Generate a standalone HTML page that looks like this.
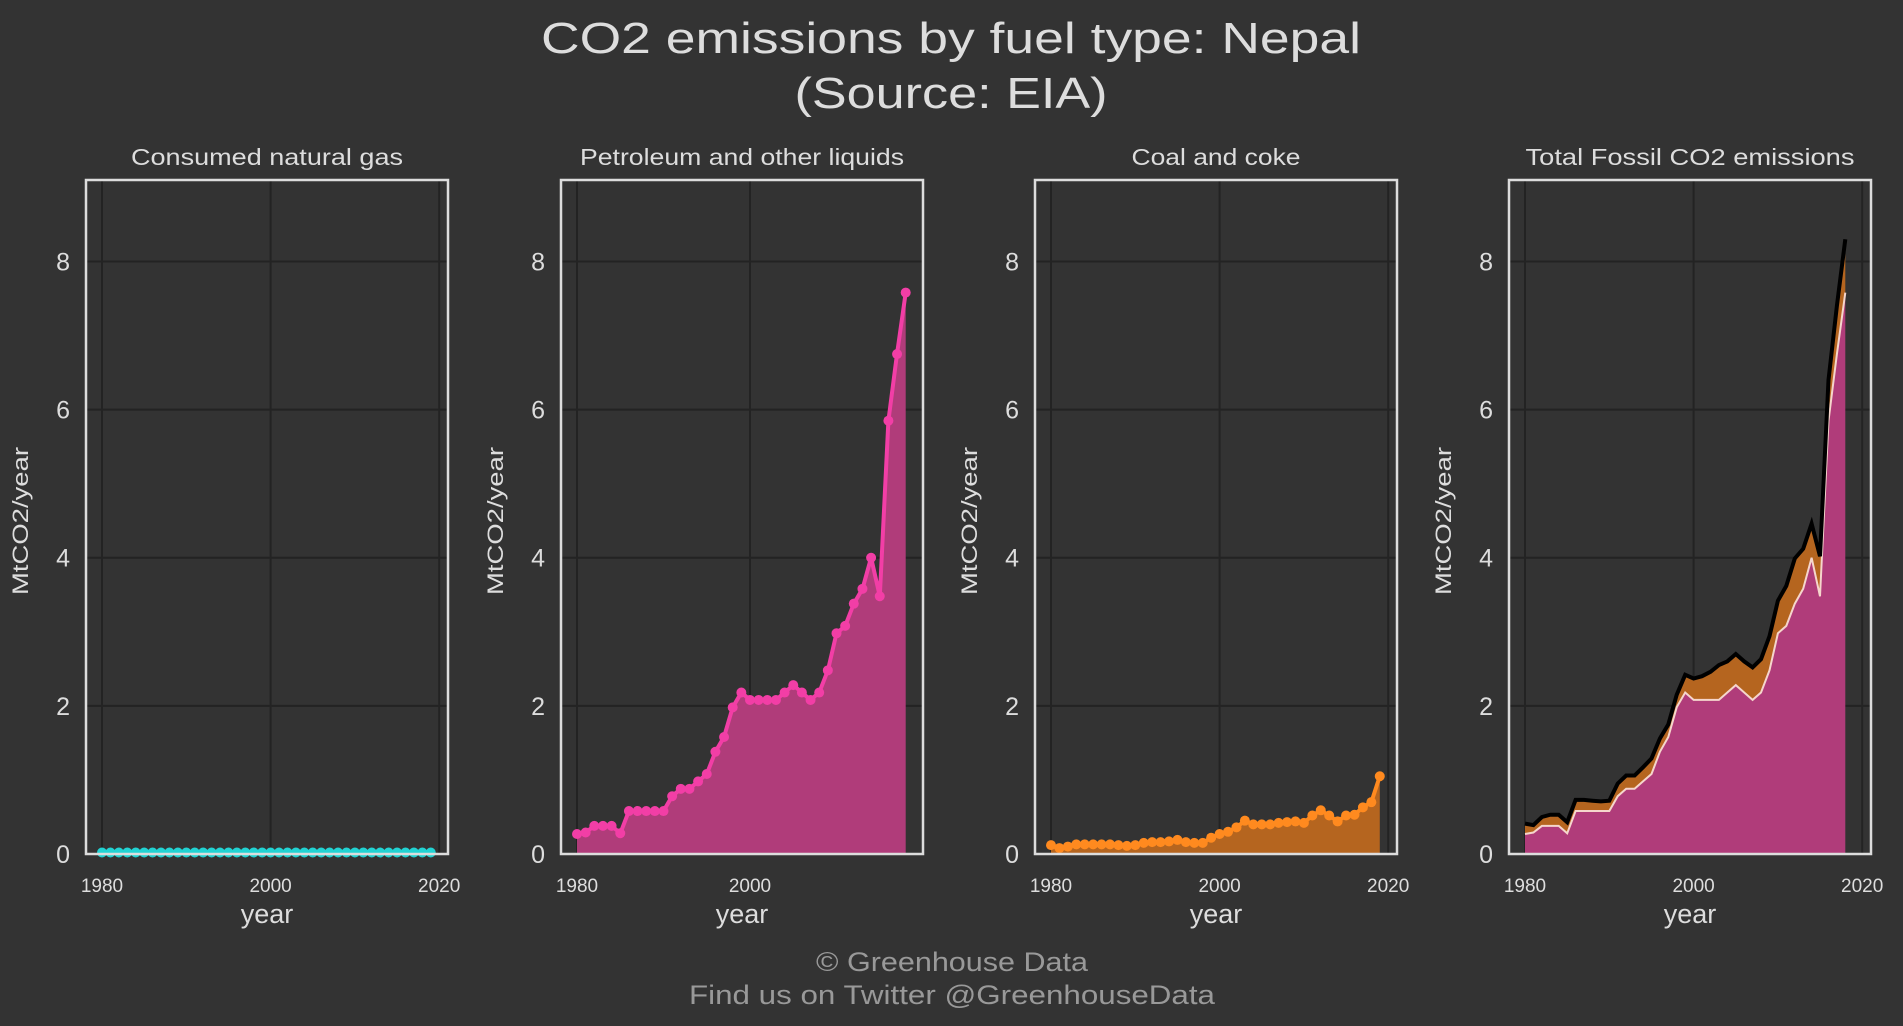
<!DOCTYPE html>
<html><head><meta charset="utf-8"><style>
html,body{margin:0;padding:0;background:#333333;}
svg{display:block;font-family:"Liberation Sans",sans-serif;}
</style></head><body>
<svg id="chart" width="1903" height="1026" viewBox="0 0 1903 1026" xmlns="http://www.w3.org/2000/svg">
<rect width="1903" height="1026" fill="#333333"/>
<text x="951" y="53" text-anchor="middle" font-size="44" fill="#dddddd" textLength="820" lengthAdjust="spacingAndGlyphs">CO2 emissions by fuel type: Nepal</text>
<text x="951" y="108" text-anchor="middle" font-size="44" fill="#dddddd" textLength="313" lengthAdjust="spacingAndGlyphs">(Source: EIA)</text>
<text x="952" y="971" text-anchor="middle" font-size="27" fill="#999999" textLength="272" lengthAdjust="spacingAndGlyphs">© Greenhouse Data</text>
<text x="952" y="1004" text-anchor="middle" font-size="27" fill="#999999" textLength="526" lengthAdjust="spacingAndGlyphs">Find us on Twitter @GreenhouseData</text>
<g id="panels"></g>
</svg>
<script>
const years = [];
for (let y = 1980; y <= 2019; y++) years.push(y);
const gasValues = [0.02,0.02,0.02,0.02,0.02,0.02,0.02,0.02,0.02,0.02,0.02,0.02,0.02,0.02,0.02,0.02,0.02,0.02,0.02,0.02,0.02,0.02,0.02,0.02,0.02,0.02,0.02,0.02,0.02,0.02,0.02,0.02,0.02,0.02,0.02,0.02,0.02,0.02,0.02,0.02];
const petroleumValues = [0.27,0.29,0.38,0.38,0.38,0.28,0.58,0.58,0.58,0.58,0.58,0.78,0.88,0.88,0.98,1.08,1.38,1.58,1.98,2.18,2.08,2.08,2.08,2.08,2.18,2.28,2.18,2.08,2.18,2.48,2.98,3.08,3.38,3.58,4.0,3.48,5.85,6.75,7.58];
const coalValues = [0.12,0.08,0.1,0.13,0.13,0.13,0.13,0.13,0.12,0.11,0.12,0.15,0.16,0.16,0.17,0.19,0.16,0.15,0.15,0.22,0.27,0.3,0.36,0.45,0.4,0.4,0.4,0.42,0.43,0.44,0.42,0.52,0.59,0.52,0.44,0.52,0.53,0.63,0.7,1.05];
const yTicks = [0,2,4,6,8];
const xTicks = [1980,2000,2020];
const panelTitles = ["Consumed natural gas","Petroleum and other liquids","Coal and coke","Total Fossil CO2 emissions"];

const NS = "http://www.w3.org/2000/svg";
const panelsG = document.getElementById('panels');
const lefts = [86,561,1035,1509];
const pxPerYear = [8.43,8.65,8.43,8.43];
const PW = 362, TOP = 180, BOT = 854, YMAX = 9.1;
const titleLens = [272,324,169,329];
function mk(tag, attrs, parent){const e=document.createElementNS(NS,tag);for(const k in attrs)e.setAttribute(k,attrs[k]);(parent||panelsG).appendChild(e);return e;}
function xs(L,s){return yr => L + 16 + (yr-1980)*s;}
function ys(v){return BOT - v*(BOT-TOP)/YMAX;}
function linePath(x, vals){return vals.map((v,i)=>(i?'L':'M')+x(years[i]).toFixed(1)+','+ys(v).toFixed(1)).join('');}
function areaPath(x, top, bottom){
  let d = top.map((v,i)=>(i?'L':'M')+x(years[i]).toFixed(1)+','+ys(v).toFixed(1)).join('');
  for(let i=bottom.length-1;i>=0;i--) d += 'L'+x(years[i]).toFixed(1)+','+ys(bottom[i]).toFixed(1);
  return d+'Z';
}

lefts.forEach((L,p)=>{
  const g = mk('g',{});
  
  
  const x = xs(L,pxPerYear[p]);
  yTicks.forEach(t=>{
    const l = mk('line',{x1:L,x2:L+PW,y1:ys(t),y2:ys(t),stroke:'#232323','stroke-width':2},g);
    
    
    const tx = mk('text',{x:L-16,y:ys(t)+9,'text-anchor':'end','font-size':25,fill:'#dddddd'},g);
    
    
    tx.textContent = t;
  });
  xTicks.forEach(t=>{
    if (x(t) > L+PW-5) return;
    const l = mk('line',{x1:x(t),x2:x(t),y1:TOP,y2:BOT,stroke:'#232323','stroke-width':2},g);
    
    
    const tx = mk('text',{x:x(t),y:892,'text-anchor':'middle','font-size':19,fill:'#dddddd'},g);
    
    
    tx.textContent = t;
  });
  const ttl = mk('text',{x:L+PW/2,y:165,'text-anchor':'middle','font-size':23,fill:'#dddddd',textLength:titleLens[p],lengthAdjust:'spacingAndGlyphs'},g);
  
  
  ttl.textContent = panelTitles[p];
  const xl = mk('text',{x:L+PW/2,y:923,'text-anchor':'middle','font-size':27,fill:'#dddddd'},g);
  
  
  xl.textContent = 'year';
  const yl = mk('text',{x:0,y:0,'text-anchor':'middle','font-size':22,fill:'#dddddd',transform:'translate('+(L-58)+',521) rotate(-90)',textLength:148,lengthAdjust:'spacingAndGlyphs'},g);
  
  
  yl.textContent = 'MtCO2/year';

  function series(vals,line,fill,name){
    const zeros = vals.map(()=>0);
    const a = mk('path',{d:areaPath(x,vals,zeros),fill:fill},g);
    
    
    const ln = mk('path',{d:linePath(x,vals),fill:'none',stroke:line,'stroke-width':4},g);
    
    
    vals.forEach((v,i)=>{
      const c = mk('circle',{cx:x(years[i]),cy:ys(v),r:5,fill:line},g);
      
      
    });
  }
  if (p===0) series(gasValues,'#22d3d3','#1a8f8f','gas');
  if (p===1) series(petroleumValues,'#f23ea6','#b03c7a','petroleum');
  if (p===2) series(coalValues,'#ff8a1f','#b5651f','coal');
  if (p===3) {
    const n = petroleumValues.length;
    const zeros = [], pet = [], pc = [], tot = [];
    for (let i=0;i<n;i++){zeros.push(0);pet.push(petroleumValues[i]);pc.push(petroleumValues[i]+coalValues[i]);tot.push(petroleumValues[i]+coalValues[i]+gasValues[i]);}
    const a1 = mk('path',{d:areaPath(x,pet,zeros),fill:'#b03c7a'},g);
    
    
    const a2 = mk('path',{d:areaPath(x,pc,pet),fill:'#b5651f'},g);
    
    
    const w = mk('path',{d:linePath(x,pet),fill:'none',stroke:'#f5d6cc','stroke-width':2},g);
    
    
    const t = mk('path',{d:linePath(x,tot),fill:'none',stroke:'#000000','stroke-width':4},g);
    
    
  }
  const fr = mk('rect',{x:L,y:TOP,width:PW,height:BOT-TOP,fill:'none',stroke:'#dddddd','stroke-width':2.5},g);
  
  
});
</script>
</body></html>
